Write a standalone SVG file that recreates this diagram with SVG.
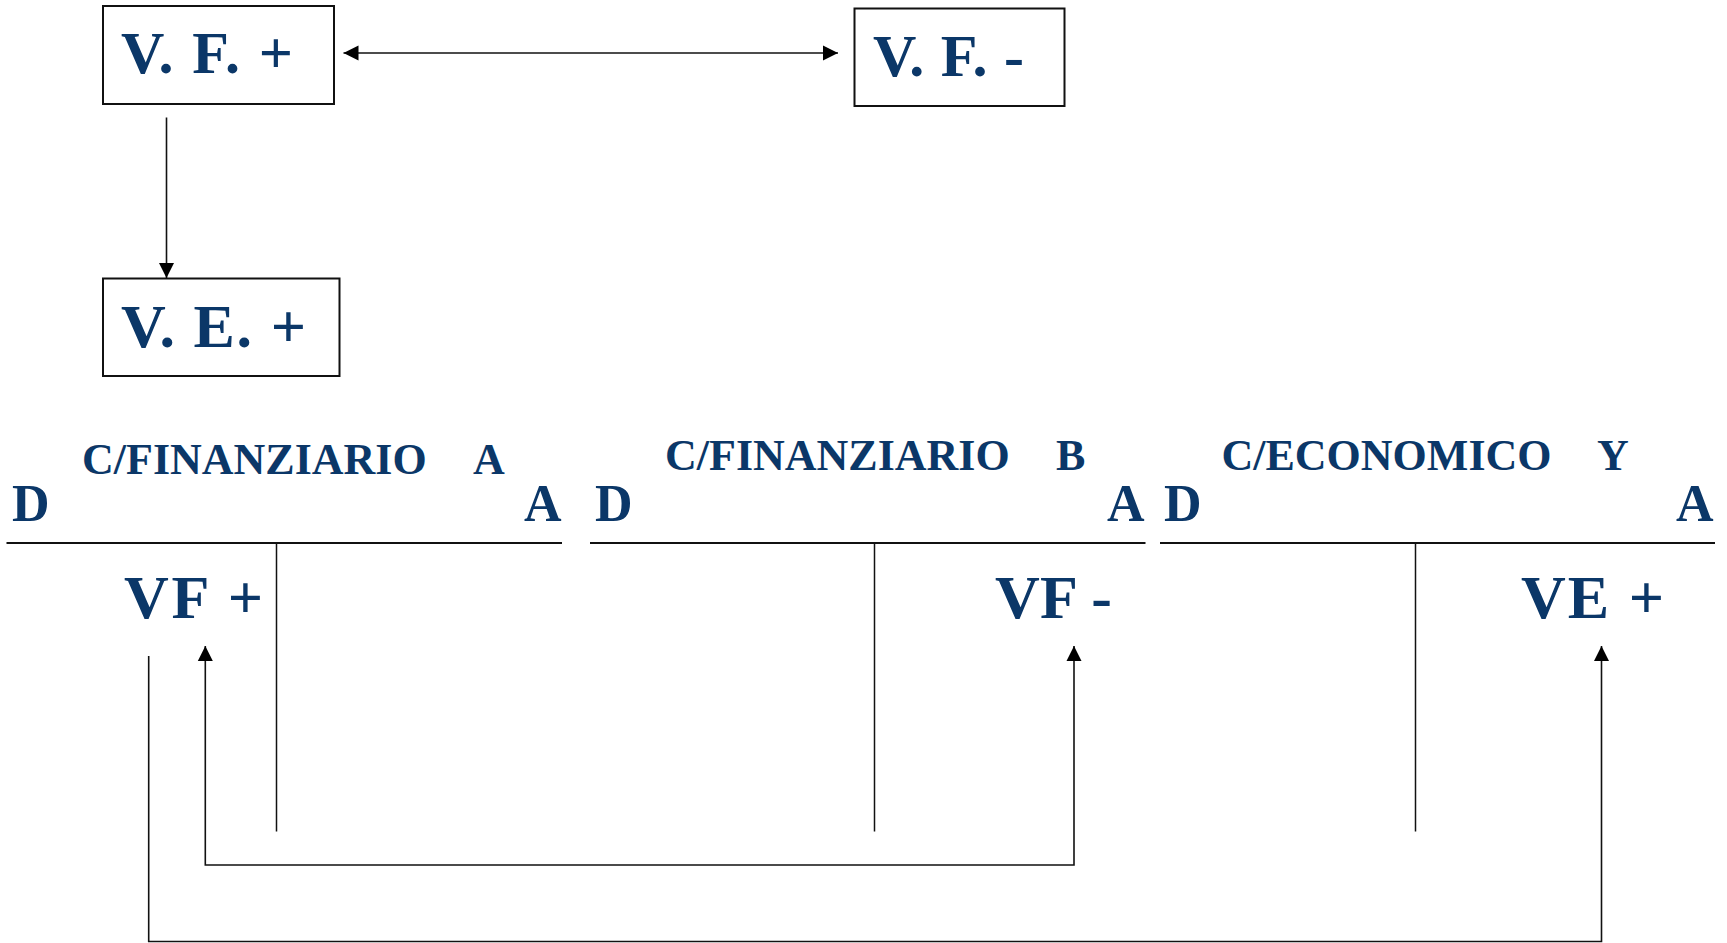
<svg xmlns="http://www.w3.org/2000/svg" width="1727" height="943" viewBox="0 0 1727 943">
<style>
  .box { fill: #ffffff; stroke: #111111; stroke-width: 2; }
  .t { font-family: "Liberation Serif", "Times New Roman", serif; font-weight: bold; fill: #0b3768; }
  .big { font-size: 60px; }
  .title { font-size: 44px; }
  .side { font-size: 52px; }
  .lbl { font-size: 62px; }
  .rule { stroke: #111111; stroke-width: 2; fill: none; }
  .vrule { stroke: #111111; stroke-width: 1.5; fill: none; }
  .conn { stroke: #111111; stroke-width: 1.6; fill: none; }
</style>
<defs>
  <marker id="arr" viewBox="0 0 16 16" refX="15" refY="8" markerWidth="16" markerHeight="16" markerUnits="userSpaceOnUse" orient="auto-start-reverse">
    <path d="M0,0.5 L15,8 L0,15.5 z" fill="#000000"/>
  </marker>
</defs>
<rect width="1727" height="943" fill="#ffffff"/>

<g id="node-vf-plus">
  <rect class="box" x="103" y="6" width="231" height="98"/>
  <text class="t big" x="121" y="73" textLength="172">V. F. +</text>
</g>
<g id="node-vf-minus">
  <rect class="box" x="854.5" y="8.5" width="210" height="97.5"/>
  <text class="t big" x="873" y="76" textLength="151">V. F. -</text>
</g>
<g id="node-ve-plus">
  <rect class="box" x="103" y="278.5" width="236.5" height="97.5"/>
  <text class="t big" x="121" y="347" textLength="185" style="font-size:62px">V. E. +</text>
</g>

<g id="account-finanziario-a">
  <text class="t title" y="474"><tspan x="82">C/FINANZIARIO</tspan><tspan x="473">A</tspan></text>
  <text class="t side" x="12" y="521">D</text>
  <text class="t side" x="524" y="521">A</text>
  <line class="rule" x1="6.5" y1="543" x2="562" y2="543"/>
  <line class="vrule" x1="276.5" y1="543" x2="276.5" y2="831.5"/>
</g>
<g id="account-finanziario-b">
  <text class="t title" y="470"><tspan x="665">C/FINANZIARIO</tspan><tspan x="1056">B</tspan></text>
  <text class="t side" x="595" y="521">D</text>
  <text class="t side" x="1107" y="521">A</text>
  <line class="rule" x1="590" y1="543" x2="1145.5" y2="543"/>
  <line class="vrule" x1="874.5" y1="543" x2="874.5" y2="831.5"/>
</g>
<g id="account-economico-y">
  <text class="t title" y="470"><tspan x="1221.5">C/ECONOMICO</tspan><tspan x="1597">Y</tspan></text>
  <text class="t side" x="1164" y="521">D</text>
  <text class="t side" x="1676" y="521">A</text>
  <line class="rule" x1="1160" y1="543" x2="1715" y2="543"/>
  <line class="vrule" x1="1415.5" y1="543" x2="1415.5" y2="831.5"/>
</g>

<g id="label-vf-plus">
  <text class="t lbl" x="124" y="618" textLength="139">VF +</text>
</g>
<g id="label-vf-minus">
  <text class="t lbl" x="995" y="618" textLength="117">VF -</text>
</g>
<g id="label-ve-plus">
  <text class="t lbl" x="1521" y="618" textLength="143">VE +</text>
</g>

<g id="connectors">
  <line class="conn" x1="343.5" y1="53" x2="838" y2="53" marker-start="url(#arr)" marker-end="url(#arr)"/>
  <line class="conn" x1="166.5" y1="117.5" x2="166.5" y2="278" marker-end="url(#arr)"/>
  <polyline class="conn" points="205.3,646 205.3,865 1074,865 1074,646" marker-start="url(#arr)" marker-end="url(#arr)"/>
  <polyline class="conn" points="148.7,656 148.7,941.5 1601.5,941.5 1601.5,646" marker-end="url(#arr)"/>
</g>
</svg>
